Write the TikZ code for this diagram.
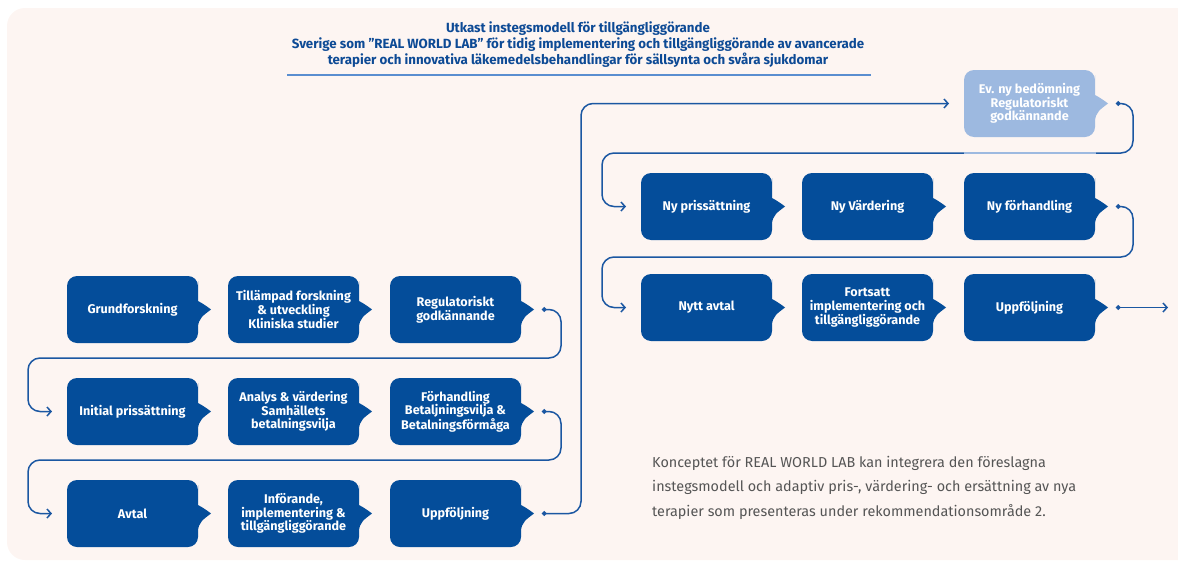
\documentclass[tikz,border=0pt]{standalone}
\usepackage{fontspec}
\setmainfont{Fira Sans}
\usetikzlibrary{arrows.meta}
\definecolor{bg}{HTML}{FDF5F2}
\definecolor{boxblue}{HTML}{044D9A}
\definecolor{lightbox}{HTML}{9DB9E0}
\definecolor{linkblue}{HTML}{1B57A2}
\definecolor{titleblue}{HTML}{0D4A95}
\definecolor{rulelight}{HTML}{5A8ED0}
\definecolor{paragray}{HTML}{555555}
\tikzset{
  boxtext/.style={text=white, font=\bfseries\fontsize{12.6}{13.6}\selectfont, align=center, inner sep=0pt},
  titletext/.style={text=titleblue, font=\bfseries\fontsize{13.3}{16}\selectfont, align=center, inner sep=0pt},
  paratext/.style={text=paragray, font=\fontsize{14.4}{24.5}\selectfont, align=left, inner sep=0pt},
  conn/.style={draw=linkblue, line width=1.5pt, rounded corners=12,
    {Circle[length=4.5pt]}-{Straight Barb[length=4pt,width=9pt]}},
}
\newcommand{\flowbox}[5]{%
  \fill[#4, rounded corners=10] (#2,#3+33.5) -- (#2,#3) -- (#2+131,#3) -- (#2+131,#3+15)
    [sharp corners] .. controls (#2+131,#3+25) and (#2+137,#3+28) .. (#2+144,#3+33.5)
    .. controls (#2+137,#3+39) and (#2+131,#3+42) .. (#2+131,#3+52)
    [rounded corners=10] -- (#2+131,#3+67) -- (#2,#3+67) -- cycle;
  \node[boxtext] (#1) at (#2+65.5,#3+33.5) {#5};
  \coordinate (#1-out) at (#2+152,#3+33.5);
  \coordinate (#1-in) at (#2-15,#3+33.5);
}
\begin{document}
\begin{tikzpicture}[x=1pt,y=-1pt]
\useasboundingbox (0,0) rectangle (1178,562);
\fill[bg] (1178,8) [rounded corners=18] -- (7,8) -- (7,560) [sharp corners] -- (1178,560) -- cycle;

\node[titletext] (title) at (578,45) {Utkast instegsmodell för tillgängliggörande\\Sverige som {\char34}REAL WORLD LAB{\char34} för tidig implementering och tillgängliggörande av avancerade\\terapier och innovativa läkemedelsbehandlingar för sällsynta och svåra sjukdomar};
\draw[rulelight, line width=1.2pt] (287,75) -- (871,75);

% left group
\flowbox{grund}{67}{276}{boxblue}{Grundforskning}
\flowbox{tillamp}{228}{276}{boxblue}{Tillämpad forskning\\\& utveckling\\Kliniska studier}
\flowbox{reg}{390}{276}{boxblue}{Regulatoriskt\\godkännande}
\flowbox{init}{67}{378}{boxblue}{Initial prissättning}
\flowbox{analys}{228}{378}{boxblue}{Analys \& värdering\\Samhällets\\betalningsvilja}
\flowbox{forh}{390}{378}{boxblue}{Förhandling\\Betaljningsvilja \&\\Betalningsförmåga}
\flowbox{avtal}{67}{480}{boxblue}{Avtal}
\flowbox{inf}{228}{480}{boxblue}{Införande,\\implementering \&\\tillgängliggörande}
\flowbox{uppf}{390}{480}{boxblue}{Uppföljning}

% right group
\flowbox{ev}{964}{70}{lightbox}{Ev. ny bedömning\\Regulatoriskt\\godkännande}
\flowbox{nypris}{641}{173}{boxblue}{Ny prissättning}
\flowbox{nyvard}{802}{173}{boxblue}{Ny Värdering}
\flowbox{nyforh}{964}{173}{boxblue}{Ny förhandling}
\flowbox{nyttavtal}{641}{274}{boxblue}{Nytt avtal}
\flowbox{forts}{802}{274}{boxblue}{Fortsatt\\implementering och\\tillgängliggörande}
\flowbox{uppf2}{964}{274}{boxblue}{Uppföljning}
\coordinate (endpt) at (1168,307.5);

% connectors
\draw[conn] (reg-out) -- (561,309.5) -- (561,358) -- (28,358) -- (28,411.5) -- (init-in);
\draw[conn] (forh-out) -- (561,411.5) -- (561,460) -- (28,460) -- (28,513.5) -- (avtal-in);
\draw[conn] (uppf-out) -- (581,513.5) -- (581,103.5) -- (ev-in);
\draw[conn] (ev-out) -- (1133,103.5) -- (1133,153) -- (602,153) -- (602,206.5) -- (nypris-in);
\draw[lightbox, line width=1.5pt] (964,153) -- (1096,153);
\draw[conn] (nyforh-out) -- (1133,206.5) -- (1133,257) -- (602,257) -- (602,307.5) -- (nyttavtal-in);
\draw[conn] (uppf2-out) -- (endpt);

\node[paratext, anchor=north west] (para) at (652,456) {Konceptet för REAL WORLD LAB kan integrera den föreslagna\\instegsmodell och adaptiv pris-, värdering- och ersättning av nya\\terapier som presenteras under rekommendationsområde 2.};
\end{tikzpicture}
\end{document}
